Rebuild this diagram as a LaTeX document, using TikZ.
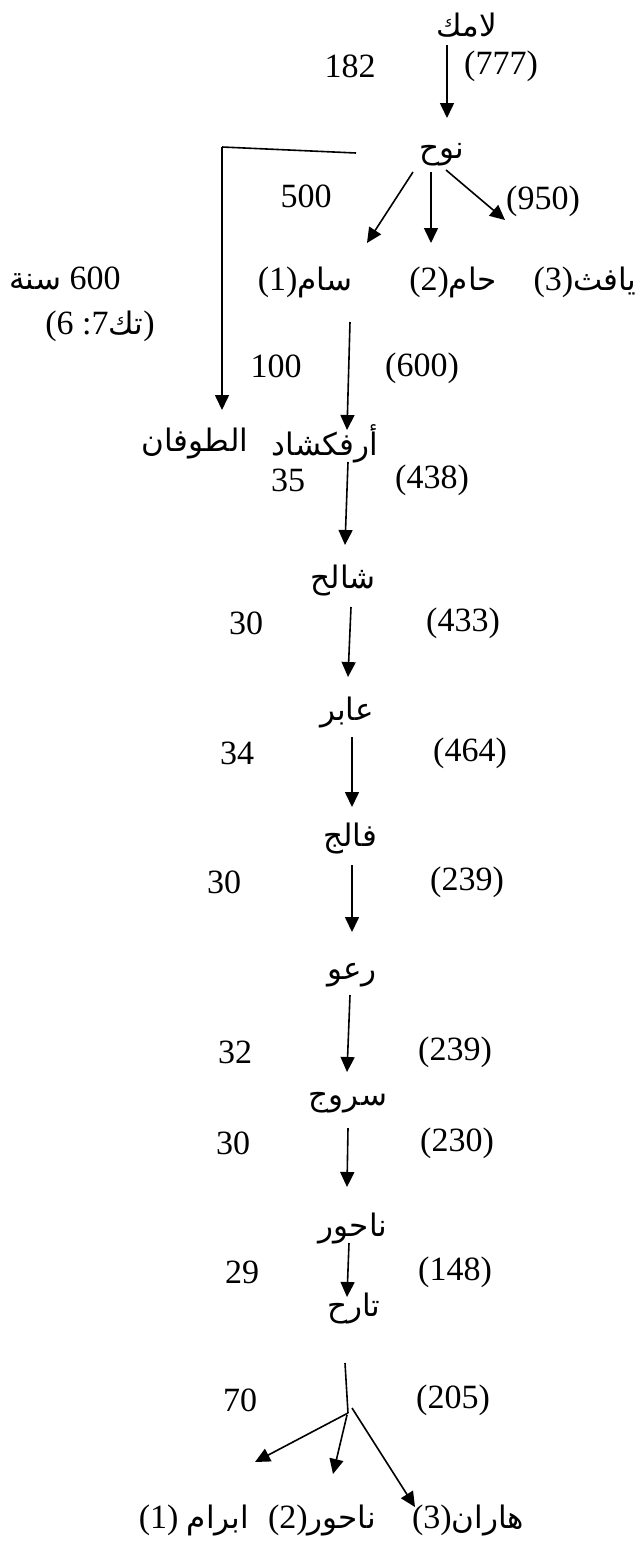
\documentclass[tikz,border=0pt]{standalone}
\usepackage{fontspec}
\setmainfont{Liberation Serif}
\newfontfamily\arabicfont[Script=Arabic]{DejaVu Sans}
\TeXXeTstate=1
\usetikzlibrary{arrows.meta}
\newcommand{\artxt}[1]{{\arabicfont\fontsize{31}{36}\selectfont\beginR #1\endR}}
\begin{document}
\begin{tikzpicture}[x=1pt,y=-1pt,
  every node/.style={inner sep=0pt},
  lbl/.style={font=\fontsize{34}{40}\selectfont},
  conn/.style={line width=1.6pt,-{Triangle[length=15pt,width=14pt]}},
  plainline/.style={line width=1.6pt}]
\fill[white] (0,0) rectangle (642,1548);
\useasboundingbox (0,0) rectangle (642,1548);
% names
\node[lbl] (lamak) at (467,25) {\artxt{لامك}};
\node[lbl] (nuh) at (442,155) {\artxt{نوح}};
\node[lbl] (sam) at (305,282) {(1)\artxt{سام}};
\node[lbl] (ham) at (453,282) {(2)\artxt{حام}};
\node[lbl] (yaf) at (585,282) {(3)\artxt{يافث}};
\node[lbl] (flood) at (195,444) {\artxt{الطوفان}};
\node[lbl] (arf) at (325,444) {\artxt{أرفكشاد}};
\node[lbl] (shaleh) at (343,580) {\artxt{شالح}};
\node[lbl] (aber) at (347,712) {\artxt{عابر}};
\node[lbl] (falij) at (350,838) {\artxt{فالج}};
\node[lbl] (raaw) at (352,975) {\artxt{رعو}};
\node[lbl] (saruj) at (348,1103) {\artxt{سروج}};
\node[lbl] (nahor) at (353,1228) {\artxt{ناحور}};
\node[lbl] (tarah) at (354,1308) {\artxt{تارح}};
\node[lbl] (b1) at (194,1520) {(1) \artxt{ابرام}};
\node[lbl] (b2) at (322,1520) {(2)\artxt{ناحور}};
\node[lbl] (b3) at (468,1520) {(3)\artxt{هاران}};
% numbers
\node[lbl] (n182) at (350,66) {182};
\node[lbl] (n777) at (501,66) {(777)};
\node[lbl] (n500) at (306,196) {500};
\node[lbl] (n950) at (543,201) {(950)};
\node[lbl] (yrs) at (65,278) {\artxt{سنة}\ 600};
\node[lbl] (gen) at (100,326) {(6 :7\artxt{تك})};
\node[lbl] (n100) at (276,366) {100};
\node[lbl] (n600) at (422,368) {(600)};
\node[lbl] (n35) at (288,480) {35};
\node[lbl] (n438) at (432,480) {(438)};
\node[lbl] (n30a) at (246,623) {30};
\node[lbl] (n433) at (463,623) {(433)};
\node[lbl] (n34) at (237,753) {34};
\node[lbl] (n464) at (470,753) {(464)};
\node[lbl] (n30b) at (224,882) {30};
\node[lbl] (n239a) at (467,882) {(239)};
\node[lbl] (n32) at (235,1052) {32};
\node[lbl] (n239b) at (455,1052) {(239)};
\node[lbl] (n30c) at (233,1143) {30};
\node[lbl] (n230) at (457,1143) {(230)};
\node[lbl] (n29) at (242,1272) {29};
\node[lbl] (n148) at (455,1272) {(148)};
\node[lbl] (n70) at (240,1400) {70};
\node[lbl] (n205) at (453,1400) {(205)};
% connectors
\draw[conn] ([xshift=-20pt,yshift=-20pt]lamak.center) -- ([xshift=5pt,yshift=37pt]nuh.center);
\draw[conn] ([xshift=-29pt,yshift=-17pt]nuh.center) -- ([xshift=62pt,yshift=39pt]sam.center);
\draw[conn] ([xshift=-11pt,yshift=-17pt]nuh.center) -- ([xshift=-22pt,yshift=39pt]ham.center);
\draw[conn] ([xshift=4pt,yshift=-15pt]nuh.center) -- ([xshift=-80pt,yshift=62pt]yaf.center);
\coordinate (fl1) at (356,153);
\coordinate (fl2) at (222,147);
\draw[plainline] (fl1) -- (fl2);
\draw[conn] (fl2) -- ([xshift=27pt,yshift=34pt]flood.center);
\draw[conn] ([xshift=45pt,yshift=-40pt]sam.center) -- ([xshift=22pt,yshift=14pt]arf.center);
\draw[conn] ([xshift=23pt,yshift=-18pt]arf.center) -- ([xshift=2pt,yshift=35pt]shaleh.center);
\draw[conn] ([xshift=8pt,yshift=-27pt]shaleh.center) -- ([xshift=1pt,yshift=35pt]aber.center);
\draw[conn] ([xshift=5pt,yshift=-25pt]aber.center) -- ([xshift=2pt,yshift=31pt]falij.center);
\draw[conn] ([xshift=2pt,yshift=-27pt]falij.center) -- ([xshift=0pt,yshift=43pt]raaw.center);
\draw[conn] ([xshift=-2pt,yshift=-20pt]raaw.center) -- ([xshift=-1pt,yshift=31pt]saruj.center);
\draw[conn] ([xshift=0pt,yshift=-25pt]saruj.center) -- ([xshift=-6pt,yshift=41pt]nahor.center);
\draw[conn] ([xshift=-4pt,yshift=-15pt]nahor.center) -- ([xshift=-7pt,yshift=11pt]tarah.center);
\coordinate (j) at (348,1413);
\draw[plainline] ([xshift=-9pt,yshift=-55pt]tarah.center) -- (j);
\draw[conn] (j) -- ([xshift=61pt,yshift=58pt]b1.center);
\draw[conn] ([xshift=-1pt,yshift=-2pt]j) -- ([xshift=11pt,yshift=46pt]b2.center);
\draw[conn] ([xshift=4pt,yshift=5pt]j) -- ([xshift=-53pt,yshift=13pt]b3.center);
\end{tikzpicture}
\end{document}
